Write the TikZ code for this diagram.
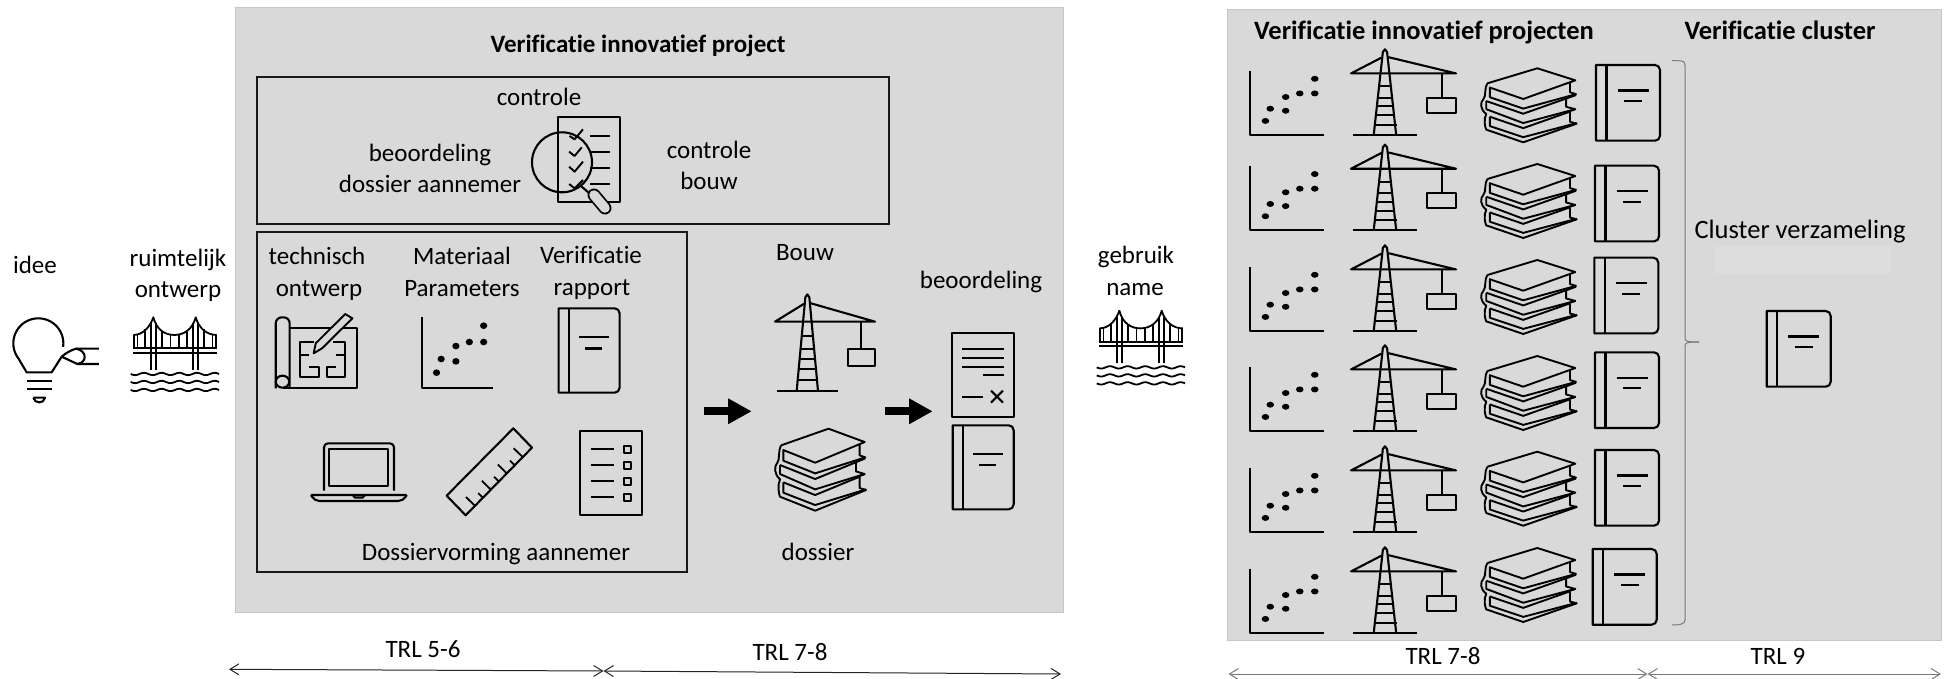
\documentclass[tikz,border=0pt]{standalone}
\usepackage{fontspec}
\setmainfont{Carlito}[Ligatures=NoCommon]
\usetikzlibrary{arrows.meta}
\definecolor{panelgray}{HTML}{D9D9D9}
\definecolor{paneledge}{HTML}{C6C6C6}
\definecolor{bracegray}{HTML}{7A7A7A}
\tikzset{
  txt/.style={anchor=base,inner sep=0pt,font=\fontsize{25}{28}\selectfont,text=black},
  ttl/.style={anchor=base,inner sep=0pt,font=\fontsize{25}{28}\selectfont\bfseries},
  ttlwide/.style={anchor=base,inner sep=0pt,font=\fontsize{26.5}{28}\selectfont\bfseries},
  panel/.style={fill=panelgray,draw=paneledge,line width=0.8pt},
  frame/.style={draw=black!90,line width=1.2pt},
  ico/.style={draw=black,line width=2.1pt,line join=round},
  ticoarrow/.style={{Straight Barb[length=9pt,width=11pt]}-{Straight Barb[length=9pt,width=11pt]},line width=1pt,black!85},
  grayarrow/.style={{Straight Barb[length=9pt,width=11pt]}-{Straight Barb[length=9pt,width=11pt]},line width=1pt,bracegray},
  blockarrow/.style={-{Triangle[length=23.5pt,width=24pt]},line width=8pt,black},
}
% book: 184 x 252 units
\newcommand{\iconbook}[4]{\begin{scope}[shift={(#1,#2)},xscale=#3/184,yscale=#4/252]
  \draw[ico] (0,0) [rounded corners=5pt] -- (184,0) -- (184,252) [sharp corners] -- (0,252) -- cycle;
  \draw[ico] (30,0) -- (30,252);
  \draw[ico] (62,85) -- (151,85) (80,120) -- (132,120);
\end{scope}}
% crane: 300 x 291 units
\newcommand{\iconcrane}[4]{\begin{scope}[shift={(#1,#2)},xscale=#3/300,yscale=#4/291]
  \draw[ico,line cap=round] (0,83) -- (300,83) -- (108,28) (0,83) -- (86,30);
  \draw[ico] (65,291) -- (91,10) -- (97,1) -- (103,10) -- (129,291);
  \draw[ico] (80,127) -- (116,127) (76,165) -- (120,165) (72,195) -- (124,195) (69,225) -- (127,225) (66,258) -- (130,258);
  \draw[ico] (7,291) -- (188,291);
  \draw[ico] (259,83) -- (259,166);
  \draw[ico] (218,166) rectangle (301,217);
\end{scope}}
% chart: 168 x 214 units
\newcommand{\iconchart}[4]{\begin{scope}[shift={(#1,#2)},xscale=#3/168,yscale=#4/214]
  \draw[ico,line cap=butt] (0,0) -- (0,214) -- (168,214);
  \foreach \px/\py in {147/27,147/76,113/76,81/88,46/127,81/134,35/168}
    \fill[black] (\px,\py) circle [x radius=8.6,y radius=10];
\end{scope}}
% books: 272 x 246 units, origin (225,476)
\newcommand{\iconbooks}[4]{\begin{scope}[shift={(#1,#2)},xscale=#3/272,yscale=#4/246,shift={(-225,-476)}]
  \draw[ico,line width=1.9pt] (243,526) -- (385,476) -- (493,516) -- (345,578) -- (250,540) -- (250,572) -- (345,610) -- (495,562) -- (478,556) -- (478,524);
  \draw[ico,line width=1.9pt] (243,526) .. controls (234,540) and (240,570) .. (232,578) .. controls (222,590) and (222,612) .. (240,628) .. controls (232,645) and (236,672) .. (240,680) -- (345,722) -- (497,660) -- (478,654) -- (478,620);
  \draw[ico,line width=1.9pt] (240,585) -- (240,612) -- (345,658) -- (493,612) -- (467,604) -- (467,578);
  \draw[ico,line width=1.9pt] (240,585) -- (345,627) -- (495,565);
  \draw[ico,line width=1.9pt] (478,618) -- (493,612);
  \draw[ico,line width=1.9pt] (250,637) -- (250,668) -- (345,705) -- (497,658);
  \draw[ico,line width=1.9pt] (250,637) -- (345,675) -- (478,620);
\end{scope}}
% bridge: origin (392,292), 1/3 scale
\newcommand{\iconbridge}[2]{\begin{scope}[shift={(#1,#2)},scale=1/3,shift={(-392,-292)}]
  \draw[ico,line width=1.8pt] (400,345) .. controls (430,345) and (450,320) .. (460,292) .. controls (470,330) and (495,345) .. (523,345) .. controls (550,345) and (577,330) .. (587,292) .. controls (597,325) and (620,345) .. (650,345);
  \draw[ico,line width=1.8pt] (453,450) -- (453,310) (467,450) -- (467,310) (580,450) -- (580,310) (594,450) -- (594,310);
  \foreach \hx/\hy in {402/345,412/344,435/328,486/335,511/344,536/344,561/335,612/328,637/344,648/345}
    \draw[ico,line width=1.6pt] (\hx,\hy) -- (\hx,385);
  \draw[ico,line width=1.8pt] (398,385) -- (652,385) (398,398) -- (652,398);
  \foreach \wy in {462,486,510}
    \draw[ico,line width=1.8pt] plot[domain=392:657,samples=60,smooth] (\x,{\wy+3.5*sin((\x-392)/53*360)});
\end{scope}}
\begin{document}
\begin{tikzpicture}[x=1pt,y=-1pt]
\useasboundingbox (0,0) rectangle (1955,679);
% panels and frames
\path[panel] (235,7) rectangle (1063,612);
\path[panel] (1227.5,9.5) rectangle (1941.5,640);
\node[fill=black!13.5,inner sep=0pt,minimum width=176pt,minimum height=28pt] (faint) at (1803,260) {};
\draw[frame] (257,77) rectangle (889,224);
\draw[frame] (257,232) rectangle (687,572);
% left-hand texts
\node[txt] (idee) at (35,273) {idee};
\node[txt] (ruimt) at (178,266) {ruimtelijk};
\node[txt] (ontw) at (178,298) {ontwerp};
\node[ttl] (title) at (638,53) {Verificatie innovatief project};
\node[txt] (contr) at (539,106) {controle};
\node[txt] (beoor) at (430,162) {beoordeling};
\node[txt] (dossa) at (430,193) {dossier aannemer};
\node[txt] (contrb) at (709,159) {controle};
\node[txt] (bouwb) at (709,190) {bouw};
\node[txt] (techn) at (317,265) {technisch};
\node[txt] (ontw2) at (319,296) {ontwerp};
\node[txt] (mater) at (462,265) {Materiaal};
\node[txt] (param) at (462,296) {Parameters};
\node[txt] (verif) at (591,264) {Verificatie};
\node[txt] (rapp) at (592,295) {rapport};
\node[txt] (bouw) at (805,261) {Bouw};
\node[txt] (beoor2) at (981,288) {beoordeling};
\node[txt] (doss) at (818,560) {dossier};
\node[txt] (dvorm) at (496,560) {Dossiervorming aannemer};
\node[txt] (gebr) at (1136,264) {gebruik};
\node[txt] (name) at (1135,295) {name};
\node[txt] (t56) at (423,657) {TRL 5-6};
\node[txt] (t78) at (790,660) {TRL 7-8};
\node[txt] (t78b) at (1443,664) {TRL 7-8};
\node[txt] (t9) at (1778,664) {TRL 9};
\node[ttlwide] (title2) at (1424,40) {Verificatie innovatief projecten};
\node[ttlwide] (title3) at (1780,40) {Verificatie cluster};
\node[txt,font=\fontsize{26.5}{28}\selectfont] (clus) at (1800,239) {Cluster verzameling};
% bulb
\begin{scope}[shift={(0,220)},scale=1/3]
  \draw[ico] plot[domain=8:-217,samples=50] ({115+75*cos(\x)},{370+75*sin(\x)}) -- (80,457) -- (155,457) -- (185,410);
  \draw[ico] (185,410) .. controls (200,397) and (215,390) .. (228,386) -- (297,386);
  \draw[ico] (185,410) -- (232,432) -- (297,432);
  \draw[ico] (228,386) .. controls (262,392) and (262,428) .. (232,432);
  \draw[ico] (80,482) -- (155,482) (80,508) -- (155,508);
  \draw[ico] (100,533) -- (135,533) .. controls (132,552) and (104,552) .. (100,533);
\end{scope}
\iconbridge{130.7}{317.3}
\iconbridge{1096.7}{310.7}
% zoom-based inner icons
\begin{scope}[shift={(240,60)},xscale=1/2.376,yscale=1/3]
  % clipboard
  \draw[ico] (755,172) rectangle (902,426);
  \foreach \ly in {228,276,324,372} \draw[ico] (832,\ly) -- (878,\ly);
  \draw[ico,line width=1.9pt] (783,228) -- (795,238) -- (815,208) (782,275) -- (795,288) -- (812,262) (782,320) -- (795,335) -- (815,305) (782,372) -- (795,385) -- (815,360);
  % blueprint
  \draw[ico,rounded corners=6pt] (85,985) -- (85,772) -- (118,772) -- (118,985) ;
  \draw[ico] (101,965) circle [x radius=16,y radius=18];
  \draw[ico] (118,805) -- (277,805) -- (277,985) -- (101,985);
  \draw[ico,line width=1.9pt] (143,885) -- (165,885) (228,885) -- (250,885);
  \draw[ico,line width=1.9pt] (175,845) -- (143,845) -- (143,950) -- (187,950) -- (187,920) -- (165,920);
  \draw[ico,line width=1.9pt] (220,845) -- (250,845) -- (250,950) -- (207,950) -- (207,920) -- (228,920);
  \draw[ico,line width=1.9pt,fill=panelgray] (175,880) -- (180,850) -- (250,762) -- (267,775) -- (195,865) -- cycle;
\end{scope}
% magnifier
\draw[ico] (562,162.3) circle [radius=30];
\draw[ico] (581,186) -- (589,193);
\draw[black,line width=13pt,line cap=round] (594,195) -- (605,208);
\draw[panelgray,line width=9.5pt,line cap=round] (594,195) -- (605,208);
% box icons
\iconchart{421.8}{316.7}{70.7}{71.3}
\iconbook{558.6}{308.3}{61}{84.4}
\begin{scope}[shift={(250,400)},scale=1/3]
  % laptop
  \draw[ico,rounded corners=4pt] (222,272) -- (222,130) -- (432,130) -- (432,272);
  \draw[ico] (238,147) rectangle (415,258);
  \draw[ico,rounded corners=5pt] (183,285) -- (193,303) -- (460,303) -- (470,285) ;
  \draw[ico] (183,285) -- (470,285) (308,285) -- (315,293) -- (338,293) -- (345,285);
  % ruler
  \draw[ico] (790,85) -- (846,143) -- (647,346) -- (590,287) -- cycle;
  \foreach \tk/\tl in {0.14/38,0.26/20,0.38/38,0.50/20,0.62/38,0.74/20,0.86/38}
    \draw[ico,line width=1.8pt] ({846-199*\tk},{143+203*\tk}) -- ({846-199*\tk-0.71*\tl},{143+203*\tk-0.70*\tl});
  % checklist
  \draw[ico] (990,93) rectangle (1176,346);
  \foreach \ly in {148,196,244,292} {
    \draw[ico] (1022,\ly) -- (1093,\ly);
    \draw[ico] (1122,\ly-11) rectangle (1144,\ly+11);
  }
\end{scope}
% centre column
\iconcrane{775}{294}{100}{97}
\iconbooks{775}{428.7}{91}{82}
\begin{scope}[shift={(700,270)},scale=1/3]
  \draw[ico] (757,189) rectangle (942,441);
  \draw[ico,line width=1.9pt] (787,238) -- (912,238) (787,264) -- (912,264) (787,290) -- (912,290) (850,315) -- (912,315) (787,380) -- (850,380);
  \draw[ico] (873,362) -- (909,398) (909,362) -- (873,398);
\end{scope}
\iconbook{952.7}{425.3}{61}{84}
\coordinate (a1s) at (704,411.3); \coordinate (a1e) at (751.7,411.3);
\coordinate (a2s) at (885.3,411.3); \coordinate (a2e) at (932.7,411.3);
\draw[blockarrow] (a1s) -- (a1e);
\draw[blockarrow] (a2s) -- (a2e);
% rows on the right
\foreach \cb/\bkt/\bt/\bx in {134.7/68.3/65/1596,230/164/165.7/1595,330.7/260/257.7/1594.3,430.7/356/352.3/1595,531.7/451.7/450/1595,632.7/548/549/1592.7} {
  \iconchart{1250}{\cb-64}{74}{64}
  \iconcrane{1351}{\cb-85.7}{105}{85.7}
  \iconbooks{1481}{\bkt}{95.7}{74}
  \iconbook{\bx}{\bt}{64}{75.7}
}
\iconbook{1766.7}{311}{64}{75.7}
% brace
\coordinate (brt) at (1672,60.7); \coordinate (brb) at (1672,625); \coordinate (brm) at (1699,342);
\draw[bracegray,line width=1pt] (brt) .. controls (1680,60.7) and (1685,60) .. (1685,65) -- (1685,338) .. controls (1685,341) and (1686,342) .. (brm);
\draw[bracegray,line width=1pt] (brm) .. controls (1686,342) and (1685,343) .. (1685,346) -- (1685,620) .. controls (1685,624) and (1680,625) .. (brb);
% TRL arrows
\coordinate (l0) at (229,669.3); \coordinate (l1) at (603.5,671); \coordinate (l2) at (1061,674);
\draw[ticoarrow] (l0) -- (l1);
\draw[ticoarrow] (l1) -- (l2);
\coordinate (r0) at (1228.5,674); \coordinate (r1) at (1647.6,674); \coordinate (r2) at (1941,674);
\draw[grayarrow] (r0) -- (r1);
\draw[grayarrow] (r1) -- (r2);
\end{tikzpicture}
\end{document}
